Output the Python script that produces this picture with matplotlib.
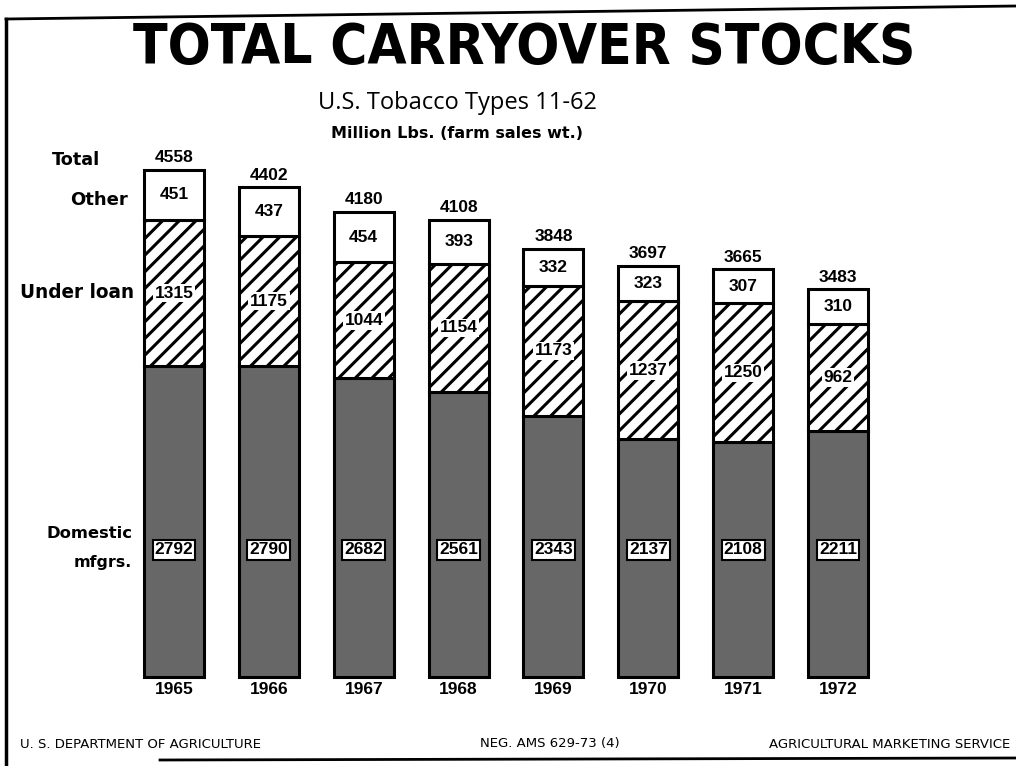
import matplotlib
matplotlib.use('Agg')
import matplotlib.pyplot as plt
from matplotlib import font_manager
from matplotlib.font_manager import FontProperties
from matplotlib.lines import Line2D
import numpy as np
import os

# ---------------- data ----------------
years = ['1965', '1966', '1967', '1968', '1969', '1970', '1971', '1972']
domestic = [2792, 2790, 2682, 2561, 2343, 2137, 2108, 2211]
under_loan = [1315, 1175, 1044, 1154, 1173, 1237, 1250, 962]
other = [451, 437, 454, 393, 332, 323, 307, 310]
totals = [4558, 4402, 4180, 4108, 3848, 3697, 3665, 3483]

title = 'TOTAL CARRYOVER STOCKS'
subtitle = 'U.S. Tobacco Types 11-62'
unit_label = 'Million Lbs. (farm sales wt.)'
row_labels = ['Total', 'Other', 'Under loan', 'Domestic', 'mfgrs.']
footer_left = 'U. S. DEPARTMENT OF AGRICULTURE'
footer_neg = 'NEG. AMS 629-73 (4)'
footer_right = 'AGRICULTURAL MARKETING SERVICE'

# ---------------- fonts ----------------
names = {f.name for f in font_manager.fontManager.ttflist}
numfont = 'Liberation Sans' if 'Liberation Sans' in names else 'DejaVu Sans'
subfont = 'Open Sans' if 'Open Sans' in names else 'DejaVu Sans'
lblfont = 'DejaVu Sans'

# look for a condensed bold face for the title
title_fp = FontProperties(family='DejaVu Sans', weight='bold')
prefs = ['LiberationSansNarrow-Bold.', 'NotoSans-CondensedBold.', 'NotoSans-CondensedSemiBold.',
         'DejaVuSansCondensed-Bold.', 'RobotoCondensed-Bold.', 'Roboto-CondensedBold.',
         'OpenSans-CondensedBold.', 'OpenSans_Condensed-Bold.']
files = [f.fname for f in font_manager.fontManager.ttflist]
found = None
for p in prefs:
    for fn in files:
        if os.path.basename(fn).startswith(p):
            found = fn
            break
    if found:
        break
if found is None:
    for fn in files:
        b = os.path.basename(fn).lower()
        if ('condensed' in b or 'narrow' in b) and 'bold' in b and 'italic' not in b \
                and 'oblique' not in b and 'extra' not in b:
            found = fn
            break
if found:
    title_fp = FontProperties(fname=found)

W, H = 1016, 766
plt.rcParams['hatch.linewidth'] = 2.2
fig = plt.figure(figsize=(W / 100, H / 100), dpi=100)
fig.patch.set_facecolor('white')
renderer = fig.canvas.get_renderer()

# axes covering the whole figure; scales chosen so bars land where the reference has them
ax = fig.add_axes([0, 0, 1, 1])
ax.axis('off')
step = 94.86          # px between bar centres
x0 = 174.0            # px of first bar centre
base = 677.0          # px of bar bottoms
ppu = 0.1113          # px per million lbs
ax.set_xlim(-x0 / step, (W - x0) / step)
ax.set_ylim(-(H - base) / ppu, base / ppu)

x = np.arange(len(years))
bw = 60 / step
dom = np.array(domestic)
ul = np.array(under_loan)
oth = np.array(other)

ax.bar(x, dom, width=bw, color='#676767', edgecolor='black', linewidth=2.2, zorder=2)
ax.bar(x, ul, bottom=dom, width=bw, color='white', edgecolor='black',
       hatch='//', linewidth=2.2, zorder=2)
ax.bar(x, oth, bottom=dom + ul, width=bw, color='white', edgecolor='black',
       linewidth=2.2, zorder=2)

u = 1 / ppu  # data units per pixel
nkw = dict(ha='center', va='center', fontsize=12.5, fontweight='bold', family=numfont, zorder=5)
for i in range(len(years)):
    ax.text(x[i], totals[i] + 12 * u, str(totals[i]), **nkw)
    ax.text(x[i], dom[i] + ul[i] + oth[i] / 2, str(other[i]), **nkw)
    ax.text(x[i], dom[i] + ul[i] / 2, str(under_loan[i]),
            bbox=dict(boxstyle='square,pad=0.1', fc='white', ec='none'), **nkw)
    ax.text(x[i], 127 * u, str(domestic[i]),
            bbox=dict(boxstyle='square,pad=0.12', fc='white', ec='black', lw=1.5), **nkw)
    ax.text(x[i], -13 * u, years[i], **nkw)


def ftext(xp, yp, s, width, size=10, ha='center', va='center', **kw):
    t = fig.text(xp / W, 1 - yp / H, s, ha=ha, va=va, fontsize=size, **kw)
    bb = t.get_window_extent(renderer=renderer)
    t.set_fontsize(size * width / bb.width)
    return t


ftext(524, 48, title, 782, size=40, fontproperties=title_fp)
ftext(457, 103, subtitle, 279, size=16, family=subfont)
ftext(457, 134, unit_label, 249, size=11, fontweight='bold', family=lblfont)

lab_pos = [(52, 160, 48), (70, 200, 58), (20, 293, 114), (47, 533, 86), (74, 563, 58)]
for s, (xp, yp, wd) in zip(row_labels, lab_pos):
    ftext(xp, yp, s, wd, size=12, ha='left', fontweight='bold', family=lblfont)

fkw = dict(va='center', fontsize=9.5, family=lblfont)
fig.text(20 / W, 1 - 745 / H, footer_left, ha='left', **fkw)
fig.text(480 / W, 1 - 744 / H, footer_neg, ha='left', **fkw)
fig.text(1010 / W, 1 - 744 / H, footer_right, ha='right', **fkw)

# frame lines
def fline(xs, ys, lw=2.0):
    fig.add_artist(Line2D([a / W for a in xs], [1 - b / H for b in ys],
                          color='black', linewidth=lw))

fline([6, 1016], [19, 6])
fline([6, 6], [19, 766], lw=2.5)
fline([160, 1016], [760, 758])

fig.savefig('out.png', dpi=100, facecolor='white')
